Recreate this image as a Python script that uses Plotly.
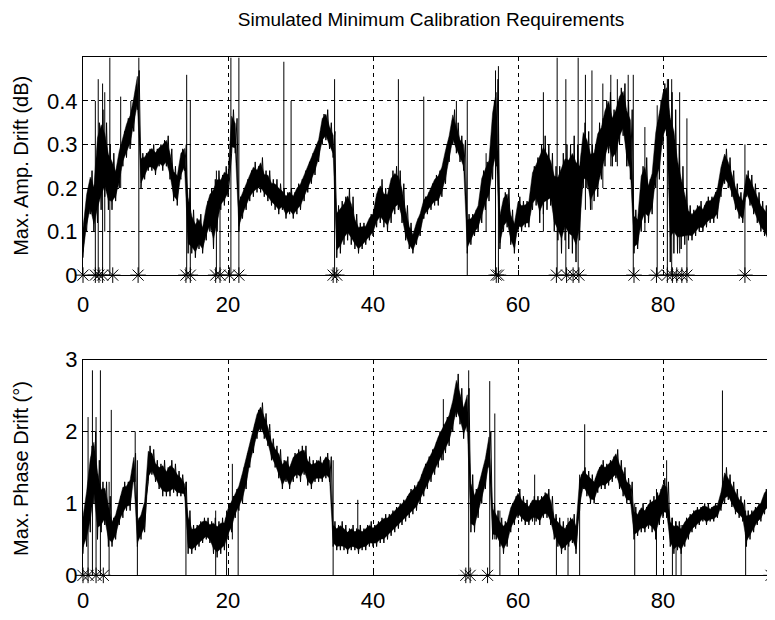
import numpy as np
import plotly.graph_objects as go

# ---------------- data ----------------
# time samples every 0.5 units, 0 .. 95.5
time_step = 0.5
n_samples = 192

# Top panel: band of Max. Amp. Drift (dB), low / high per sample
amp_lo = [0.04, 0.10, 0.14, 0.10, 0.12, 0.15, 0.18, 0.15, 0.15, 0.17,
          0.20, 0.25, 0.27, 0.29, 0.33, 0.38, 0.20, 0.22, 0.24, 0.24,
          0.23, 0.25, 0.24, 0.25, 0.22, 0.17, 0.16, 0.22, 0.24, 0.05,
          0.05, 0.04, 0.06, 0.05, 0.08, 0.10, 0.06, 0.10, 0.15, 0.16,
          0.18, 0.28, 0.28, 0.10, 0.13, 0.15, 0.17, 0.18, 0.19, 0.19,
          0.18, 0.17, 0.16, 0.15, 0.14, 0.15, 0.13, 0.14, 0.13, 0.14,
          0.15, 0.17, 0.19, 0.21, 0.23, 0.26, 0.30, 0.31, 0.29, 0.27,
          0.04, 0.05, 0.07, 0.08, 0.07, 0.06, 0.05, 0.06, 0.07, 0.08,
          0.09, 0.11, 0.12, 0.11, 0.10, 0.12, 0.14, 0.15, 0.12, 0.08,
          0.06, 0.05, 0.07, 0.09, 0.13, 0.14, 0.15, 0.16, 0.16, 0.18,
          0.21, 0.26, 0.30, 0.28, 0.26, 0.24, 0.05, 0.07, 0.09, 0.10,
          0.12, 0.15, 0.17, 0.22, 0.25, 0.06, 0.10, 0.11, 0.07, 0.05,
          0.10, 0.10, 0.11, 0.11, 0.15, 0.16, 0.12, 0.14, 0.15, 0.16,
          0.10, 0.08, 0.05, 0.08, 0.06, 0.05, 0.03, 0.08, 0.20, 0.20,
          0.15, 0.17, 0.18, 0.22, 0.25, 0.28, 0.25, 0.26, 0.30, 0.32,
          0.25, 0.22, 0.05, 0.06, 0.10, 0.12, 0.12, 0.14, 0.20, 0.22,
          0.30, 0.32, 0.03, 0.05, 0.05, 0.06, 0.07, 0.08, 0.08, 0.09,
          0.10, 0.10, 0.11, 0.12, 0.12, 0.13, 0.18, 0.21, 0.20, 0.18,
          0.15, 0.13, 0.12, 0.18, 0.16, 0.14, 0.12, 0.10, 0.09, 0.07,
          0.16, 0.18]
amp_hi = [0.12, 0.20, 0.24, 0.22, 0.35, 0.38, 0.35, 0.30, 0.28, 0.25,
          0.30, 0.33, 0.36, 0.38, 0.42, 0.47, 0.28, 0.28, 0.29, 0.30,
          0.29, 0.30, 0.31, 0.32, 0.29, 0.25, 0.24, 0.29, 0.30, 0.20,
          0.15, 0.13, 0.14, 0.12, 0.17, 0.20, 0.22, 0.24, 0.23, 0.25,
          0.24, 0.38, 0.36, 0.18, 0.20, 0.22, 0.24, 0.26, 0.25, 0.27,
          0.24, 0.24, 0.22, 0.22, 0.21, 0.20, 0.19, 0.20, 0.19, 0.21,
          0.22, 0.24, 0.26, 0.28, 0.30, 0.32, 0.37, 0.38, 0.35, 0.33,
          0.16, 0.17, 0.18, 0.20, 0.18, 0.14, 0.12, 0.12, 0.12, 0.14,
          0.15, 0.20, 0.22, 0.20, 0.20, 0.24, 0.25, 0.24, 0.21, 0.16,
          0.12, 0.10, 0.13, 0.15, 0.18, 0.19, 0.21, 0.23, 0.24, 0.26,
          0.30, 0.33, 0.38, 0.35, 0.32, 0.31, 0.14, 0.14, 0.15, 0.17,
          0.24, 0.26, 0.28, 0.40, 0.45, 0.15, 0.19, 0.20, 0.15, 0.13,
          0.18, 0.17, 0.17, 0.18, 0.25, 0.27, 0.30, 0.32, 0.30, 0.28,
          0.25, 0.25, 0.28, 0.30, 0.30, 0.32, 0.30, 0.28, 0.35, 0.33,
          0.30, 0.30, 0.35, 0.36, 0.40, 0.42, 0.38, 0.40, 0.43, 0.44,
          0.40, 0.38, 0.15, 0.14, 0.25, 0.27, 0.22, 0.25, 0.35, 0.40,
          0.44, 0.45, 0.42, 0.38, 0.30, 0.25, 0.20, 0.16, 0.15, 0.16,
          0.17, 0.16, 0.18, 0.18, 0.19, 0.21, 0.26, 0.29, 0.27, 0.24,
          0.21, 0.19, 0.18, 0.24, 0.23, 0.21, 0.19, 0.17, 0.16, 0.15,
          0.24, 0.26]

# Top panel: isolated vertical spikes (position, bottom, top)
amp_spike_x  = [1.7, 2.1, 2.7, 3.0, 3.7, 5.2, 6.6, 7.7, 14.3, 14.8, 18.4, 18.9,
                20.4, 21.5, 27.7, 28.7, 34.7, 43.5, 47.0, 51.5, 53.0, 55.6, 56.9,
                57.3, 63.5, 65.4, 66.6, 68.3, 69.3, 70.2, 71.7, 72.8, 73.7, 75.2,
                75.9, 77.5, 79.2, 80.6, 81.2, 82.3, 83.3, 91.3, 95.0]
amp_spike_lo = [0.0, 0.0, 0.0, 0.10, 0.0, 0.20, 0.30, 0.0, 0.0, 0.0, 0.0, 0.0,
                0.0, 0.0, 0.17, 0.15, 0.0, 0.15, 0.13, 0.30, 0.0, 0.10, 0.0,
                0.0, 0.10, 0.0, 0.0, 0.0, 0.15, 0.15, 0.20, 0.25, 0.25, 0.25,
                0.0, 0.10, 0.0, 0.0, 0.0, 0.05, 0.0, 0.0, 0.15]
amp_spike_hi = [0.40, 0.45, 0.44, 0.42, 0.50, 0.41, 0.40, 0.50, 0.46, 0.40, 0.24, 0.22,
                0.50, 0.50, 0.49, 0.40, 0.45, 0.45, 0.41, 0.40, 0.40, 0.28, 0.47,
                0.48, 0.42, 0.50, 0.45, 0.50, 0.46, 0.47, 0.44, 0.46, 0.45, 0.46,
                0.46, 0.34, 0.39, 0.45, 0.45, 0.42, 0.36, 0.30, 0.26]

# Top panel: calibration events (asterisks on the zero line)
amp_cal_x = [0.0, 1.7, 2.2, 2.7, 4.1, 7.6, 14.2, 14.8, 18.3, 18.9, 20.2, 21.5,
             34.5, 35.0, 57.0, 57.3, 65.3, 66.7, 67.6, 68.4, 76.0, 79.1,
             80.6, 81.3, 81.9, 82.6, 83.3, 91.3]

# Bottom panel: band of Max. Phase Drift (deg), low / high per sample
ph_lo = [0.30, 0.40, 0.60, 1.00, 0.50, 0.60, 0.70, 0.40, 0.40, 0.50,
         0.70, 0.80, 0.90, 0.90, 1.30, 0.40, 0.50, 0.60, 1.30, 1.40,
         1.30, 1.20, 1.10, 1.10, 1.10, 1.15, 1.10, 1.10, 1.10, 0.30,
         0.30, 0.35, 0.40, 0.45, 0.50, 0.45, 0.30, 0.25, 0.30, 0.35,
         0.50, 0.60, 0.80, 0.90, 1.00, 1.20, 1.50, 1.70, 1.90, 2.00,
         1.90, 1.80, 1.60, 1.50, 1.35, 1.20, 1.30, 1.20, 1.30, 1.35,
         1.30, 1.40, 1.25, 1.20, 1.30, 1.30, 1.30, 1.35, 1.30, 0.40,
         0.35, 0.35, 0.35, 0.30, 0.35, 0.35, 0.30, 0.35, 0.35, 0.40,
         0.40, 0.40, 0.45, 0.45, 0.50, 0.55, 0.60, 0.65, 0.70, 0.75,
         0.80, 0.85, 0.90, 1.00, 1.10, 1.20, 1.30, 1.40, 1.50, 1.60,
         1.70, 1.80, 2.00, 2.20, 2.10, 1.90, 2.00, 0.60, 0.60, 0.80,
         1.00, 1.20, 1.50, 0.50, 0.50, 0.40, 0.30, 0.40, 0.60, 0.70,
         0.80, 0.75, 0.70, 0.70, 0.75, 0.75, 0.70, 0.80, 0.80, 0.70,
         0.50, 0.40, 0.30, 0.35, 0.40, 0.45, 0.30, 0.90, 1.20, 1.10,
         1.00, 1.00, 1.15, 1.20, 1.20, 1.25, 1.30, 1.35, 1.20, 1.10,
         1.00, 1.00, 0.50, 0.55, 0.60, 0.60, 0.65, 0.60, 0.50, 0.70,
         0.80, 0.80, 0.40, 0.30, 0.35, 0.30, 0.40, 0.50, 0.60, 0.65,
         0.70, 0.75, 0.70, 0.75, 0.75, 0.80, 0.90, 1.00, 1.05, 0.95,
         0.85, 0.80, 0.75, 0.40, 0.50, 0.60, 0.70, 0.75, 0.85, 0.90,
         0.90, 0.85]
ph_hi = [0.90, 1.30, 1.80, 2.00, 1.60, 1.30, 1.30, 1.10, 0.80, 0.90,
         1.10, 1.30, 1.30, 1.40, 1.70, 0.80, 0.90, 1.10, 1.80, 1.75,
         1.60, 1.55, 1.60, 1.50, 1.60, 1.55, 1.45, 1.40, 1.30, 0.90,
         0.70, 0.70, 0.75, 0.80, 0.80, 0.75, 0.80, 0.75, 0.80, 0.80,
         1.00, 1.10, 1.20, 1.30, 1.50, 1.70, 1.90, 2.10, 2.30, 2.40,
         2.25, 2.10, 1.90, 1.80, 1.75, 1.60, 1.65, 1.55, 1.70, 1.75,
         1.80, 1.80, 1.65, 1.60, 1.60, 1.65, 1.60, 1.70, 1.65, 0.75,
         0.70, 0.75, 0.70, 0.65, 0.70, 0.65, 0.70, 0.65, 0.70, 0.75,
         0.70, 0.75, 0.80, 0.85, 0.85, 0.90, 0.95, 1.00, 1.05, 1.10,
         1.20, 1.25, 1.30, 1.40, 1.55, 1.65, 1.75, 1.85, 2.00, 2.10,
         2.20, 2.30, 2.50, 2.80, 2.60, 2.40, 2.60, 1.40, 1.20, 1.30,
         1.50, 1.70, 2.00, 1.00, 0.90, 0.80, 0.75, 0.80, 1.00, 1.10,
         1.20, 1.10, 1.05, 1.00, 1.10, 1.10, 1.10, 1.15, 1.20, 1.10,
         0.85, 0.80, 0.75, 0.70, 0.80, 0.85, 0.75, 1.40, 1.50, 1.45,
         1.40, 1.35, 1.50, 1.60, 1.55, 1.60, 1.65, 1.75, 1.60, 1.50,
         1.35, 1.30, 0.95, 0.90, 1.00, 0.95, 1.05, 1.10, 1.15, 1.20,
         1.35, 1.30, 0.80, 0.75, 0.75, 0.70, 0.80, 0.85, 0.90, 0.95,
         0.95, 1.00, 1.00, 0.95, 1.00, 1.00, 1.20, 1.50, 1.40, 1.30,
         1.20, 1.10, 1.05, 0.90, 0.90, 0.95, 1.00, 1.05, 1.20, 1.25,
         1.30, 1.20]

# Bottom panel: isolated vertical spikes / drops (position, bottom, top)
ph_spike_x  = [0.7, 1.3, 1.8, 2.4, 3.6, 3.9, 7.2, 7.5, 14.2, 18.3, 19.8, 20.6,
               21.4, 34.5, 37.9, 49.7, 53.2, 56.1, 56.8, 57.5, 62.3, 65.3, 66.9,
               68.5, 69.2, 76.1, 79.1, 80.5, 81.3, 81.8, 82.5, 88.2, 91.4, 94.5]
ph_spike_lo = [0.0, 0.0, 0.0, 0.0, 0.0, 0.5, 1.3, 0.0, 0.0, 0.0, 0.0, 0.5,
               0.0, 0.0, 0.4, 1.6, 0.0, 0.0, 0.5, 0.0, 0.7, 0.0, 0.0,
               0.0, 1.2, 0.0, 0.0, 0.8, 0.0, 0.0, 0.0, 1.0, 0.0, 0.9]
ph_spike_hi = [2.2, 2.85, 2.2, 2.85, 1.3, 2.3, 2.0, 1.6, 1.3, 0.9, 0.9, 1.55,
               1.2, 1.6, 1.05, 2.45, 2.85, 2.7, 2.25, 0.9, 1.4, 0.8, 0.8,
               1.4, 2.1, 1.0, 1.2, 1.6, 0.8, 0.75, 0.7, 2.57, 0.9, 1.4]

# Bottom panel: calibration events (asterisks on the zero line)
ph_cal_x = [0.0, 0.7, 1.8, 2.8, 52.8, 53.4, 55.8, 94.9]

x_ticks = [0, 20, 40, 60, 80]
amp_ticks = [0, 0.1, 0.2, 0.3, 0.4]
amp_tick_text = ["0", "0.1", "0.2", "0.3", "0.4"]
ph_ticks = [0, 1, 2, 3]

title_text = "Simulated Minimum Calibration Requirements"
amp_label = "Max. Amp. Drift (dB)"
ph_label = "Max. Phase Drift (°)"

# ---------------- build traces ----------------
t = np.arange(n_samples) * time_step


def band_path(lo, hi):
    xs = np.column_stack([t, t + time_step / 2]).ravel()
    ys = np.column_stack([np.asarray(lo), np.asarray(hi)]).ravel()
    return xs, ys


def band_core(lo, hi, k=0.15):
    lo = np.asarray(lo)
    hi = np.asarray(hi)
    c_lo = lo + k * (hi - lo)
    c_hi = hi - k * (hi - lo)
    xs = np.concatenate([t, t[::-1]])
    ys = np.concatenate([c_hi, c_lo[::-1]])
    return xs, ys


def spike_path(sx, slo, shi):
    xs, ys = [], []
    for a, b, c in zip(sx, slo, shi):
        xs += [a, a, None]
        ys += [b, c, None]
    return xs, ys


# page offset: browser body margin of 8 px
OFF = 8
W, H = 775 - OFF, 620 - OFF
L = 83 - OFF


def py(v):
    return 1 - (v - OFF) / H


def px(v):
    return (v - OFF - L) / (W - L)


top_dom = [py(274), py(47)]
bot_dom = [py(587), py(362)]
x_max = (W - L) / 7.25

FONT = "Liberation Sans, Arial, sans-serif"
line_style = dict(color="black", width=1)
star = dict(symbol="asterisk-open", size=13, color="black",
            line=dict(color="black", width=1))

fig = go.Figure()


def add_panel(lo, hi, spx, splo, sphi, calx, xa, ya):
    cx, cy = band_core(lo, hi)
    fig.add_trace(go.Scatter(x=cx, y=cy, mode="lines", fill="toself",
                             fillcolor="black", line=dict(color="black", width=0.5),
                             xaxis=xa, yaxis=ya, showlegend=False, hoverinfo="skip"))
    bx, by = band_path(lo, hi)
    fig.add_trace(go.Scatter(x=bx, y=by, mode="lines", line=line_style,
                             xaxis=xa, yaxis=ya, showlegend=False, hoverinfo="skip"))
    sx, sy = spike_path(spx, splo, sphi)
    fig.add_trace(go.Scatter(x=sx, y=sy, mode="lines", line=line_style,
                             xaxis=xa, yaxis=ya, showlegend=False, hoverinfo="skip"))
    fig.add_trace(go.Scatter(x=calx, y=[0] * len(calx), mode="markers", marker=star,
                             cliponaxis=False, xaxis=xa, yaxis=ya, showlegend=False))


add_panel(amp_lo, amp_hi, amp_spike_x, amp_spike_lo, amp_spike_hi, amp_cal_x, "x", "y")
add_panel(ph_lo, ph_hi, ph_spike_x, ph_spike_lo, ph_spike_hi, ph_cal_x, "x2", "y2")

grid = dict(showgrid=True, gridcolor="black", gridwidth=1, griddash="4px,4px")
xcommon = dict(range=[0, x_max], tickvals=x_ticks, ticks="inside", ticklen=5,
               tickcolor="black", showline=True, linecolor="black", linewidth=1,
               mirror=True, zeroline=False,
               tickfont=dict(family=FONT, size=22, color="black"), **grid)
ycommon = dict(ticks="inside", ticklen=5, tickcolor="black", showline=True,
               linecolor="black", linewidth=1, mirror=False, zeroline=False,
               tickfont=dict(family=FONT, size=22, color="black"), **grid)

fig.update_layout(
    width=W, height=H,
    margin=dict(l=L, r=0, t=0, b=0),
    paper_bgcolor="white", plot_bgcolor="white",
    showlegend=False,
    title=dict(text=title_text, x=(431 - OFF) / W, xanchor="center", y=py(19),
               yanchor="middle", font=dict(family=FONT, size=19, color="black")),
    xaxis=dict(domain=[0, 1], anchor="y", ticklabelstandoff=9, **xcommon),
    yaxis=dict(domain=top_dom, anchor="x", range=[0, 0.5], tickvals=amp_ticks,
               ticktext=amp_tick_text, **ycommon),
    xaxis2=dict(domain=[0, 1], anchor="y2", ticklabelstandoff=5, **xcommon),
    yaxis2=dict(domain=bot_dom, anchor="x2", range=[0, 3], tickvals=ph_ticks,
                **ycommon),
    annotations=[
        dict(text=amp_label, textangle=-90, xref="paper", yref="paper",
             x=px(21), y=py(160), xanchor="center", yanchor="middle",
             showarrow=False, font=dict(family=FONT, size=20, color="black")),
        dict(text=ph_label, textangle=-90, xref="paper", yref="paper",
             x=px(21), y=py(476), xanchor="center", yanchor="middle",
             showarrow=False, font=dict(family=FONT, size=20, color="black")),
    ],
)

fig.write_html("out.html")
